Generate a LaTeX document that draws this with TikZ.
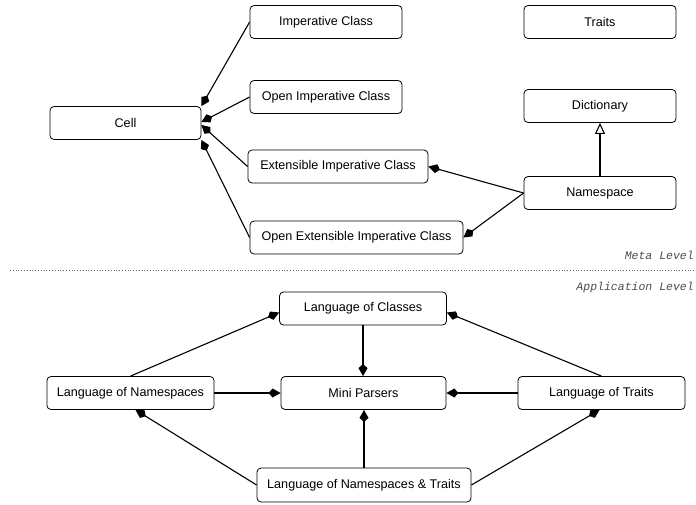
\documentclass[tikz,border=0pt]{standalone}
\usepackage{fontspec}
\setmainfont{Liberation Sans}
\setmonofont{Liberation Mono}
\usetikzlibrary{arrows.meta}
\begin{document}
\begin{tikzpicture}[x=1pt,y=-1pt,
  box/.style={draw, line width=0.8pt, rounded corners=4pt, minimum width=152pt,
    minimum height=33pt, inner sep=10pt, font=\fontsize{12.6}{14}\selectfont},
  link/.style={line width=1.1pt, -{Kite[length=12pt,width=9pt,inset=4pt]}},
  isa/.style={line width=1.1pt, -{Triangle[open,length=11pt,width=10pt]}},
  level/.style={anchor=east, text=black!70, inner sep=0pt,
    font=\ttfamily\itshape\fontsize{11.5}{13}\selectfont}]
\useasboundingbox (0,0) rectangle (696,504);
% meta level
\node [box] (imp) at (326,22) {Imperative Class};
\node [box] (open) at (326,97) {Open Imperative Class};
\node [box, minimum width=151pt] (cell) at (125.5,123) {Cell};
\node [box, minimum width=180pt] (ext) at (338,166.5) {Extensible Imperative Class};
\node [box, minimum width=213pt] (openext) at (356.5,237.5) {Open Extensible Imperative Class};
\node [box] (traits) at (600,22) {Traits};
\node [box] (dict) at (600,106) {Dictionary};
\node [box] (ns) at (600,193) {Namespace};
\draw [link] (imp.west) -- (cell.north east);
\draw [link] (open.west) -- ([yshift=1pt]cell.east);
\draw [link] (ext.west) -- ([yshift=-2pt]cell.east);
\draw [link] (openext.west) -- (cell.south east);
\draw [link] (ns.west) -- (ext.east);
\draw [link] (ns.west) -- (openext.east);
\draw [isa] (ns.north) -- (dict.south);
% separator
\node [level] (meta) at (694,255) {Meta Level};
\node [level] (app) at (694,288) {Application Level};
\draw [black!60, line width=0.8pt, dotted] (10,270) -- (696,270);
% application level
\node [box, minimum width=167pt] (loc) at (363,308.5) {Language of Classes};
\node [box, minimum width=167pt] (lon) at (130.5,393) {Language of Namespaces};
\node [box, minimum width=165pt] (mini) at (363.5,393) {Mini Parsers};
\node [box, minimum width=167pt] (lot) at (601.5,393) {Language of Traits};
\node [box, minimum width=214pt, minimum height=34pt] (lnt) at (364,485) {Language of Namespaces \& Traits};
\draw [link] (loc.south) -- (loc.south |- mini.north);
\draw [link] (lon.north) -- ([yshift=-4pt]loc.west);
\draw [link] (lot.north) -- ([yshift=-4pt]loc.east);
\draw [link] (lon.east) -- (mini.west);
\draw [link] (lot.west) -- (mini.east);
\draw [link] (lnt.north) -- (lnt.north |- mini.south);
\draw [link] (lnt.west) -- ([xshift=5pt]lon.south);
\draw [link] (lnt.east) -- ([xshift=-2pt]lot.south);
\end{tikzpicture}
\end{document}
